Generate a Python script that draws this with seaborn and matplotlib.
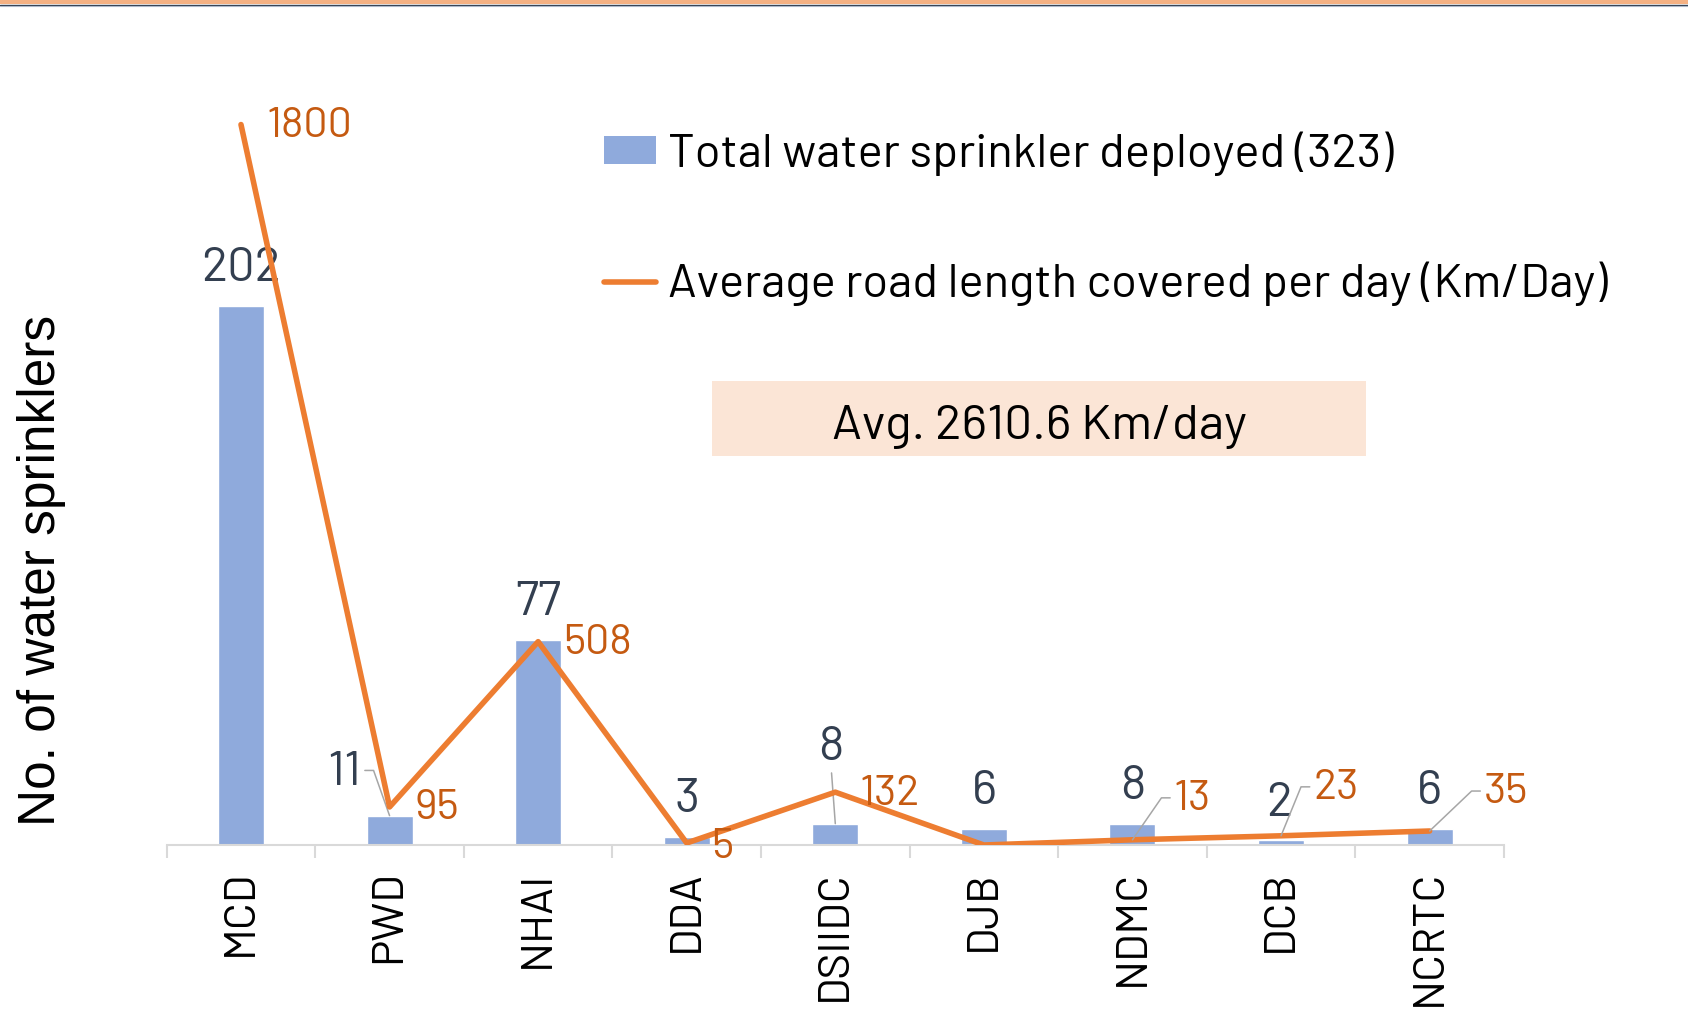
import numpy as np
import pandas as pd
import matplotlib
matplotlib.use("Agg")
import matplotlib.pyplot as plt
import seaborn as sns
from matplotlib.lines import Line2D
from matplotlib.patches import Patch, Rectangle

# data
agencies = ["MCD", "PWD", "NHAI", "DDA", "DSIIDC", "DJB", "NDMC", "DCB", "NCRTC"]
sprinklers = [202, 11, 77, 3, 8, 6, 8, 2, 6]
road_km = [1800, 95, 508, 5, 132, 0, 13, 23, 35]
road_labels = ["1800", "95", "508", "5", "132", "", "13", "23", "35"]
total_sprinklers = 323
avg_text = "Avg. 2610.6 Km/day"

BAR = "#8FAADC"
LINE = "#ED7D31"
LINE_TXT = "#C55A11"
BAR_TXT = "#333F50"
AXIS = "#D9D9D9"
LEADER = "#A6A6A6"

# label placement (offset in pixels from the point)
bar_offsets = {"PWD": (-45, 43), "DSIIDC": (-4, 76), "DCB": (-2, 36)}
bar_leaders = {"PWD": ((1, 0.55), 0), "DSIIDC": ((0.5, 0), None)}
line_offsets = {"MCD": (26, -2), "PWD": (25, -2), "NHAI": (25, -2), "DDA": (24, -5),
                "DSIIDC": (24, -2), "NDMC": (41, 40), "DCB": (32, 47), "NCRTC": (54, 38)}
line_leaders = ["NDMC", "DCB", "NCRTC"]

sns.set_theme(style="white")
DIN = ["Barlow", "DejaVu Sans"]
plt.rcParams["font.family"] = DIN

df = pd.DataFrame({"agency": agencies, "sprinklers": sprinklers, "road": road_km})

fig = plt.figure(figsize=(16.88, 10.15), dpi=100)
ax = fig.add_axes([166.7 / 1688, 1 - 845 / 1015, 1337.2 / 1688, 800.5 / 1015])

sns.barplot(data=df, x="agency", y="sprinklers", color=BAR, width=0.31,
            saturation=1, errorbar=None, ax=ax)
ax.set_ylim(0, 300)
ax.set_xlim(-0.5, len(agencies) - 0.5)

ax2 = ax.twinx()
sns.lineplot(data=df, x="agency", y="road", color=LINE, lw=4.0, sort=False,
             errorbar=None, ax=ax2, solid_capstyle="round", solid_joinstyle="round")
ax2.set_ylim(0, 2000)
ax2.set_xlim(-0.5, len(agencies) - 0.5)

# axes styling
for a in (ax, ax2):
    for s in ("top", "left", "right"):
        a.spines[s].set_visible(False)
    a.set_yticks([])
    a.set_xlabel("")
ax2.set_ylabel("")
ax2.spines["bottom"].set_visible(False)
ax.spines["bottom"].set_color(AXIS)
ax.spines["bottom"].set_linewidth(1.5)

ax.set_xticks(np.arange(len(agencies)))
ax.set_xticklabels(agencies, rotation=90, fontsize=32, color="black")
ax.set_xticks(np.arange(len(agencies) + 1) - 0.5, minor=True)
ax.tick_params(axis="x", which="major", length=0, pad=18)
ax.tick_params(axis="x", which="minor", bottom=True, length=9.3, width=1.5, color=AXIS)

ax.set_ylabel("No. of water sprinklers", fontsize=37, color="black",
              family=["Liberation Sans", "DejaVu Sans"])
ax.yaxis.set_label_coords(-0.0933, 0.343)
ax.yaxis.label.set_va("center")

# bar labels
for i, (name, v) in enumerate(zip(agencies, sprinklers)):
    dx, dy = bar_offsets.get(name, (0, 37))
    arrow = None
    if name in bar_leaders:
        rel, ang = bar_leaders[name]
        cs = "arc3" if ang is None else f"arc,angleA={ang},angleB=0,armA=12,armB=0,rad=0"
        arrow = dict(arrowstyle="-", color=LEADER, lw=1.1, shrinkA=0, shrinkB=0,
                     relpos=rel, connectionstyle=cs)
    ax.annotate(str(v), xy=(i, v), xytext=(dx, dy), textcoords="offset pixels",
                ha="center", va="center", fontsize=35, color=BAR_TXT,
                arrowprops=arrow, zorder=5)

# line labels
for i, (name, v, lab) in enumerate(zip(agencies, road_km, road_labels)):
    if not lab:
        continue
    dx, dy = line_offsets[name]
    arrow = None
    if name in line_leaders:
        arrow = dict(arrowstyle="-", color=LEADER, lw=1.1, shrinkA=0, shrinkB=0,
                     relpos=(0, 0.55),
                     connectionstyle="arc,angleA=180,angleB=0,armA=12,armB=0,rad=0")
    ax2.annotate(lab, xy=(i, v), xytext=(dx, dy), textcoords="offset pixels",
                 ha="left", va="center", fontsize=31, color=LINE_TXT,
                 arrowprops=arrow, zorder=5)

# legend
handles = [Patch(facecolor=BAR, edgecolor="none"),
           Line2D([0], [0], color=LINE, lw=4.0, solid_capstyle="round")]
labels = [f"Total water sprinkler deployed ({total_sprinklers})",
          "Average road length covered per day (Km/Day)"]
fig.legend(handles, labels, loc="upper left", bbox_to_anchor=(604 / 1688, 1 - 131 / 1015),
           frameon=False, fontsize=34, handlelength=1.1, handleheight=0.55,
           handletextpad=0.25, labelspacing=1.83, borderpad=0, borderaxespad=0,
           labelcolor="black")

# average box
fig.add_artist(Rectangle((712 / 1688, 1 - 456 / 1015), 654 / 1688, 75 / 1015,
                         transform=fig.transFigure, facecolor="#FBE5D6", edgecolor="none"))
fig.text(1039 / 1688, 1 - 439 / 1015, avg_text, ha="center", va="baseline",
         fontsize=35.5, color="black")

# top border
fig.add_artist(Rectangle((0, 1 - 4 / 1015), 1, 4 / 1015, transform=fig.transFigure,
                         facecolor="#F4B183", edgecolor="none"))
fig.add_artist(Line2D([0, 1], [1 - 4.6 / 1015] * 2, transform=fig.transFigure,
                      color="#333F50", lw=1.0))
fig.add_artist(Line2D([0, 1], [1 - 5.6 / 1015] * 2, transform=fig.transFigure,
                      color="#ADB9CA", lw=0.8))

fig.savefig("out.png", dpi=100)
